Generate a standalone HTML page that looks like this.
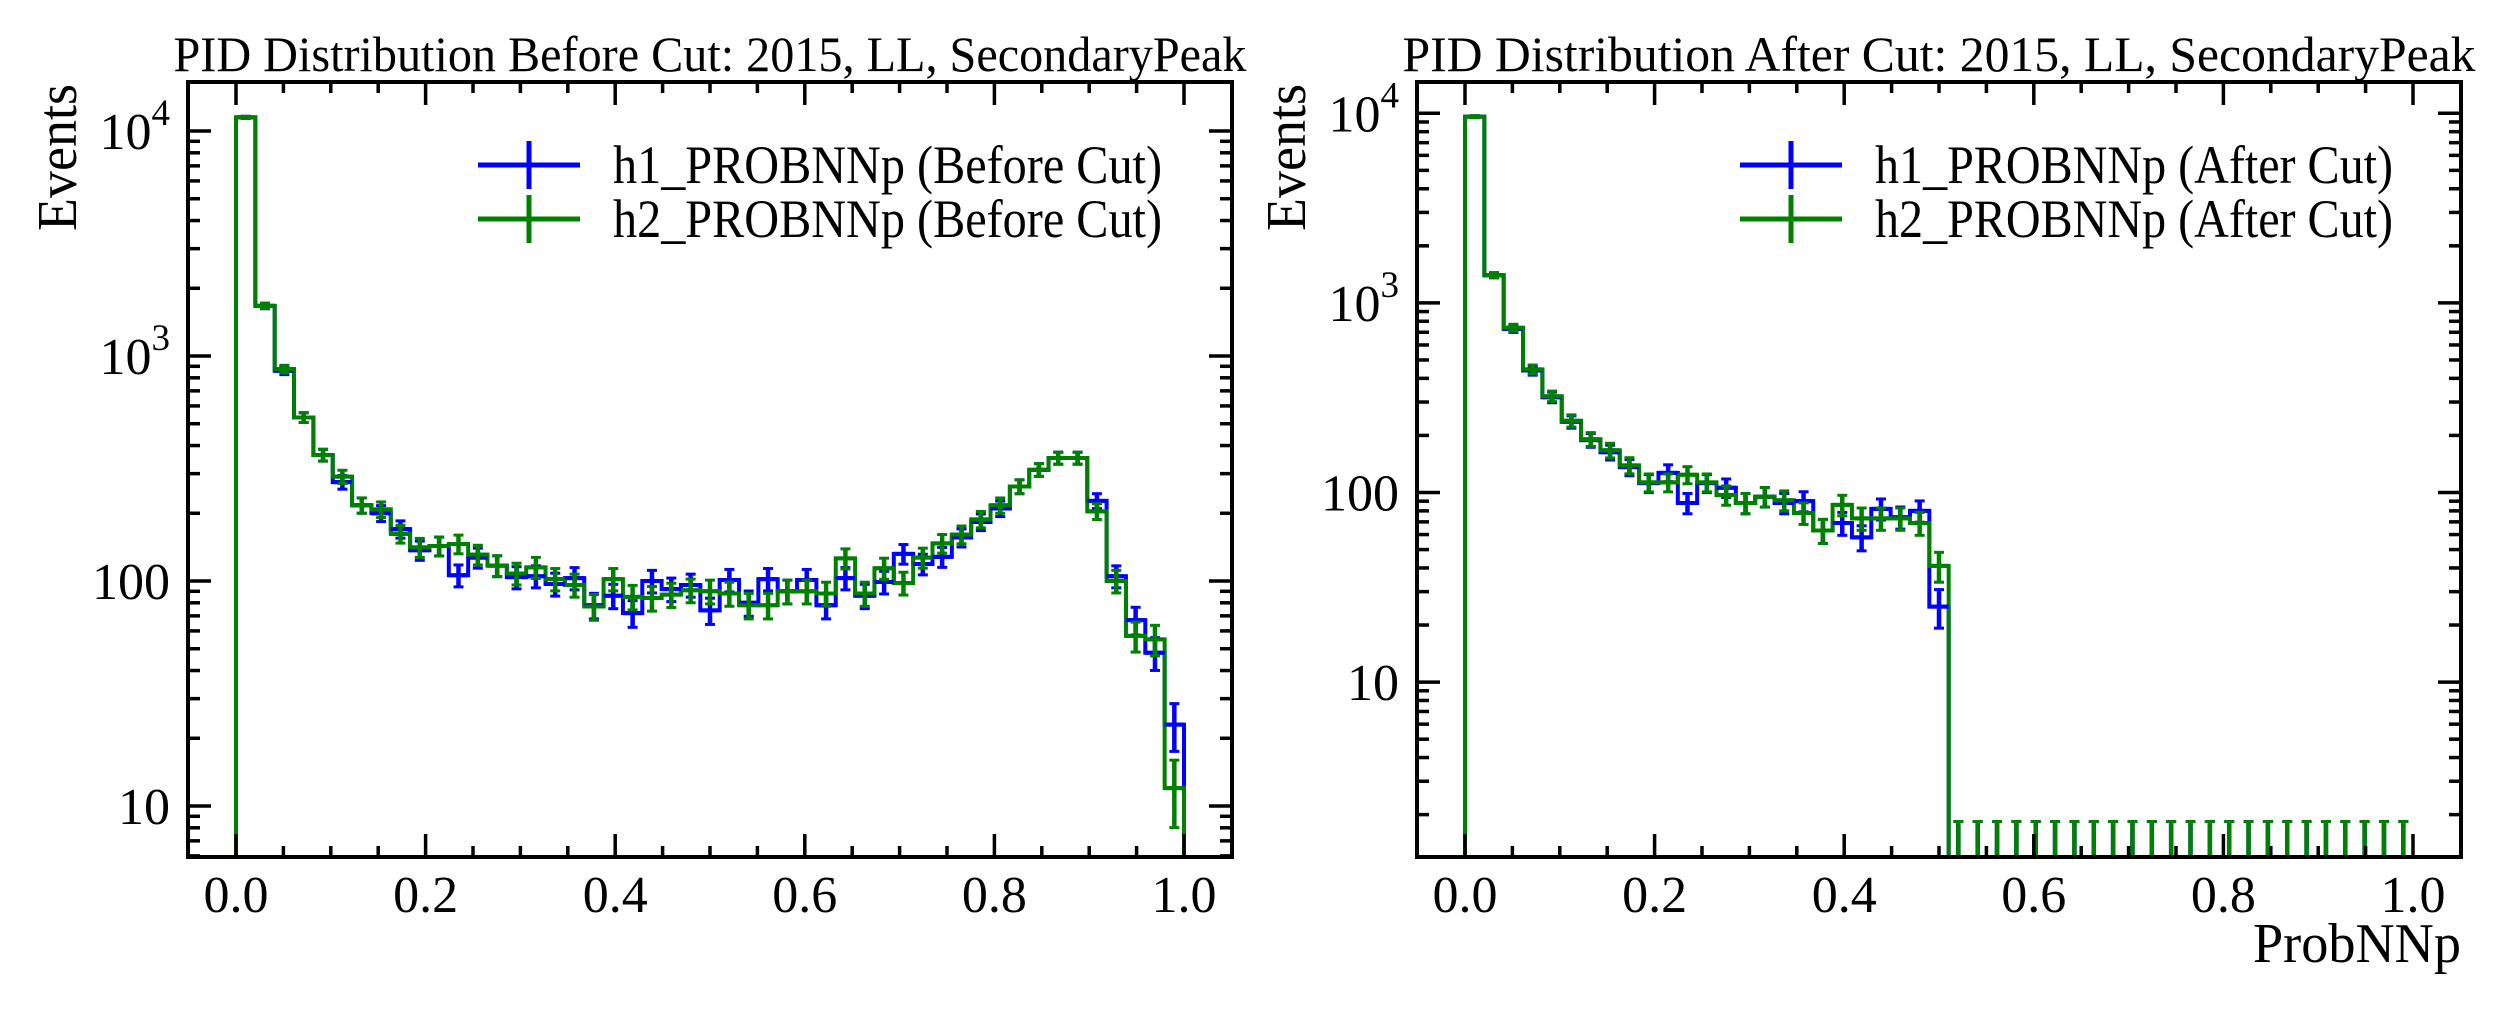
<!DOCTYPE html>
<html><head><meta charset="utf-8"><style>
html,body{margin:0;padding:0;background:#fff;}
svg{display:block;font-family:"Liberation Serif","DejaVu Serif",serif;}
</style></head><body>
<svg id="fig" width="2500" height="1015" viewBox="0 0 2500 1015" xmlns="http://www.w3.org/2000/svg"></svg>
<script>
// ---------- data ----------
const nBins = 49;
const xTickLabels = ["0.0","0.2","0.4","0.6","0.8","1.0"];
const xTickValues = [0,0.2,0.4,0.6,0.8,1.0];
const before_h1 = [11500,1670,860,533,363,275,217,200,170,137,143,106,127,
  117,104,105,97,103,78,86,72,100,92,96,74,101,80,102,90,101,78,103,86,99,132,119,128,156,183,
  210,263,312,352,352,227,105,67,48,23];
const before_h2 = [11500,1670,875,533,363,291,217,208,162,141,143,146,131,
  117,108,115,102,96,77,102,85,84,87,91,90,88,78,78,90,90,88,126,88,114,98,127,147,161,188,
  217,263,312,352,352,204,100,57,55,12];
const after_h1 = [9600,1400,730,440,318,236,189,163,136,112,127,88,112,106,88,95,88,90,63,69,58,82,74,80,25,
  0,0,0,0,0,0,0,0,0,0,0,0,0,0,0,0,0,0,0,0,0,0,0,0];
const after_h2 = [9600,1400,740,446,322,239,191,167,139,113,113,124,113,97,88,95,91,78,63,86,73,73,73,69,41,
  0,0,0,0,0,0,0,0,0,0,0,0,0,0,0,0,0,0,0,0,0,0,0,0];
const errScale = 1.15;
const zeroErrHi = 1.84;

// ---------- helpers ----------
const NS = "http://www.w3.org/2000/svg";
const svg = document.getElementById("fig");
function mk(tag, attrs, parent){
  const e = document.createElementNS(NS, tag);
  for (const k in attrs) e.setAttribute(k, attrs[k]);
  (parent||svg).appendChild(e);
  return e;
}

function drawPanel(cfg){
  const g = mk("g", {});
  
  
  const L=cfg.left, R=cfg.right, T=82, B=857;
  const xs = v => cfg.x0 + v*948;
  const ys = v => cfg.yRef + (4 - Math.log10(v))*cfg.dec;
  const clipId = cfg.name + "-clip";
  const defs = mk("defs", {}, g);
  const cp = mk("clipPath", {id: clipId}, defs);
  mk("rect", {x:L, y:T, width:R-L, height:B-T}, cp);
  const plot = mk("g", {"clip-path": "url(#"+clipId+")"}, g);
  
  
  const w = 1/nBins;
  function yv(v){ return v>0 ? ys(v) : B+20; }
  function stepPath(vals){
    let d = "M"+xs(0)+","+(B+20);
    for (let i=0;i<nBins;i++){
      const y = yv(vals[i]);
      d += " L"+xs(i*w)+","+y+" L"+xs((i+1)*w)+","+y;
    }
    d += " L"+xs(1)+","+(B+20);
    return d;
  }
  function errs(vals, color, label){
    const eg = mk("g", {stroke: color, fill:"none"}, plot);
    
    
    for (let i=0;i<nBins;i++){
      const v = vals[i];
      const cx = xs((i+0.5)*w);
      let lo, hi;
      if (v>0){ const e = errScale*Math.sqrt(v); lo = Math.max(v-e, 0.01); hi = v+e; }
      else { lo = 0.01; hi = zeroErrHi; }
      const yl = Math.min(ys(lo), B+20), yh = ys(hi);
      const ln = mk("line", {x1:cx, x2:cx, y1:yl, y2:yh, "stroke-width":4.5}, eg);
      
      
      mk("line", {x1:cx-5, x2:cx+5, y1:yh, y2:yh, "stroke-width":3}, eg);
      if (v>0){
        mk("line", {x1:cx-5, x2:cx+5, y1:yl, y2:yl, "stroke-width":3}, eg);
        mk("line", {x1:xs(i*w), x2:xs((i+1)*w), y1:ys(v), y2:ys(v), "stroke-width":4}, eg);
      }
    }
  }
  const p1 = mk("path", {d: stepPath(cfg.h1), stroke:"#0000ff", "stroke-width":4, fill:"none"}, plot);
  
  
  const p2 = mk("path", {d: stepPath(cfg.h2), stroke:"#008000", "stroke-width":4, fill:"none"}, plot);
  
  
  errs(cfg.h1, "#0000ff", "h1");
  errs(cfg.h2, "#008000", "h2");

  // ticks
  const tk = mk("g", {stroke:"#000", "stroke-width":3.5}, g);
  
  
  for (let k=-1;k<=21;k++){
    const v = k*0.05; const x = xs(v);
    if (x < L+1 || x > R-1) continue;
    const len = (k%4===0) ? 23 : 11;
    mk("line", {x1:x, x2:x, y1:B, y2:B-len}, tk);
    mk("line", {x1:x, x2:x, y1:T, y2:T+len}, tk);
  }
  for (let e=0;e<=4;e++){
    for (let m=1;m<=9;m++){
      const v = m*Math.pow(10,e); const y = ys(v);
      if (y < T+1 || y > B-1) continue;
      const len = (m===1) ? 23 : 12;
      mk("line", {x1:L, x2:L+len, y1:y, y2:y}, tk);
      mk("line", {x1:R, x2:R-len, y1:y, y2:y}, tk);
    }
  }
  const frame = mk("rect", {x:L, y:T, width:R-L, height:B-T, fill:"none", stroke:"#000", "stroke-width":4}, g);
  
  

  // x tick labels
  for (let i=0;i<xTickValues.length;i++){
    const t = mk("text", {x: xs(xTickValues[i]), y: 912, "font-size":52, "text-anchor":"middle"}, g);
    t.textContent = xTickLabels[i];
    
    
  }
  // y tick labels
  for (const d of cfg.yLabels){
    const y = ys(Math.pow(10,d));
    const t = mk("text", {x: L-18, y: y+18, "font-size":52, "text-anchor":"end"}, g);
    if (d >= 3){
      t.appendChild(document.createTextNode("10"));
      const s = mk("tspan", {"font-size":37, dy:-24}, t);
      s.textContent = String(d);
    } else {
      t.textContent = String(Math.pow(10,d));
    }
    
    
  }
  // title
  const ti = mk("text", {x:(L+R)/2, y:71, "font-size":50, "text-anchor":"middle", textLength:1073, lengthAdjust:"spacingAndGlyphs"}, g);
  ti.textContent = cfg.title;
  
  
  // y label
  const yl = mk("text", {x:0, y:0, "font-size":56, "text-anchor":"end", transform:"translate("+(L-112)+",84) rotate(-90)", textLength:147, lengthAdjust:"spacingAndGlyphs"}, g);
  yl.textContent = "Events";
  
  
  // legend
  const lg = mk("g", {}, g);
  
  
  const entries = [["#0000ff", cfg.leg1, 165],["#008000", cfg.leg2, 219]];
  for (const en of entries){
    const eg = mk("g", {}, lg);
    
    
    const mx = cfg.legX;
    mk("line", {x1:mx, x2:mx+102, y1:en[2], y2:en[2], stroke:en[0], "stroke-width":5}, eg);
    mk("line", {x1:mx+51, x2:mx+51, y1:en[2]-24, y2:en[2]+24, stroke:en[0], "stroke-width":5}, eg);
    const t = mk("text", {x: mx+135, y: en[2]+18, "font-size":54}, eg);
    if (cfg.legLen) { t.setAttribute("textLength", cfg.legLen); t.setAttribute("lengthAdjust","spacingAndGlyphs"); }
    t.textContent = en[1];
  }
}

drawPanel({name:"before-cut-panel", left:188, right:1232, x0:236, yRef:131, dec:225,
  h1:before_h1, h2:before_h2, yLabels:[1,2,3,4],
  title:"PID Distribution Before Cut: 2015, LL, SecondaryPeak",
  leg1:"h1_PROBNNp (Before Cut)", leg2:"h2_PROBNNp (Before Cut)", legX:478, legLen:549});
drawPanel({name:"after-cut-panel", left:1417, right:2461, x0:1465, yRef:113.3, dec:189.6,
  h1:after_h1, h2:after_h2, yLabels:[1,2,3,4],
  title:"PID Distribution After Cut: 2015, LL, SecondaryPeak",
  leg1:"h1_PROBNNp (After Cut)", leg2:"h2_PROBNNp (After Cut)", legX:1740, legLen:518});

const xl = mk("text", {x:2461, y:962, "font-size":56, "text-anchor":"end", textLength:208, lengthAdjust:"spacingAndGlyphs"});
xl.textContent = "ProbNNp";


</script>
</body></html>
